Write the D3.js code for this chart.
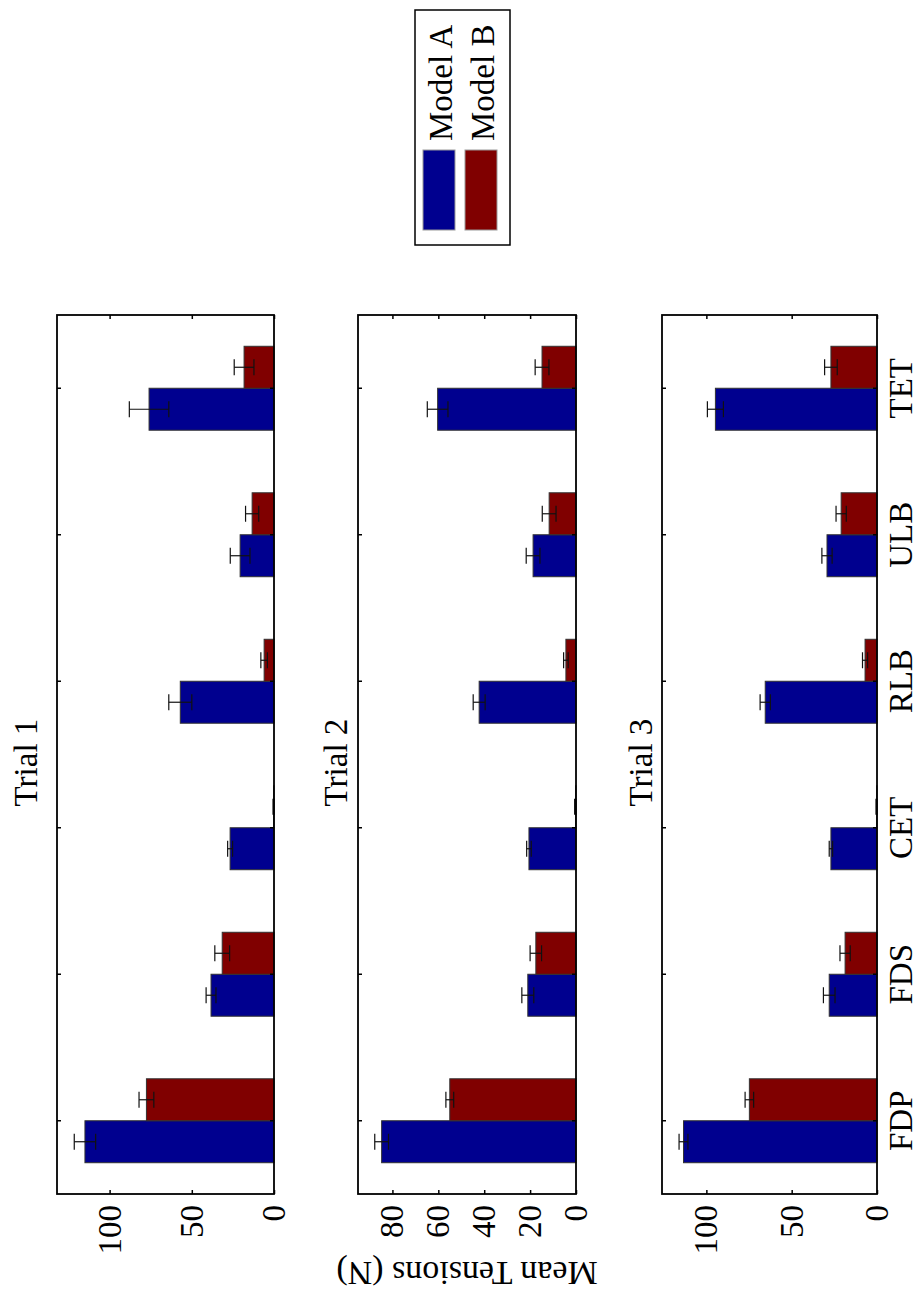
<!DOCTYPE html>
<html>
<head>
<meta charset="utf-8">
<script src="https://cdn.jsdelivr.net/npm/d3@7"></script>
<style>
  html, body { margin: 0; padding: 0; background: #fff; }
  svg { display: block; }
  text { font-family: "Liberation Serif", "Times New Roman", serif; fill: #000; }
</style>
</head>
<body>
<svg id="chart" width="919" height="1291"></svg>
<script>
// Muscle tendon categories and the two models compared
const categories = ["FDP", "FDS", "CET", "RLB", "ULB", "TET"];
const series = ["Model A", "Model B"];
const trialNames = ["Trial 1", "Trial 2", "Trial 3"];

// Mean tensions (N) per trial and model
const trial1ModelA = [115, 38.3, 26.7, 57, 20.6, 76];
const trial1ModelB = [77.6, 31.5, 0.2, 6, 13.3, 18.2];
const trial2ModelA = [84.7, 21, 20.5, 42.2, 18.7, 60.3];
const trial2ModelB = [55, 17.5, 0.2, 4.4, 11.7, 14.8];
const trial3ModelA = [113.4, 28, 27, 65.5, 29.3, 94.7];
const trial3ModelB = [74.8, 18.7, 0.2, 7, 21, 27];

// Error half-widths (N)
const trial1ErrA = [6.5, 3, 1.5, 7, 6, 12];
const trial1ErrB = [4.5, 4.5, 0.4, 2, 4, 6];
const trial2ErrA = [3, 2.6, 1, 2.6, 3, 4.5];
const trial2ErrB = [1.7, 2.5, 0.4, 1, 3, 3];
const trial3ErrA = [2.6, 3.4, 1, 3, 3, 4.7];
const trial3ErrB = [2.5, 3, 0.4, 1.5, 3, 3.7];

// Axis limits and tick values for each trial
const valueMax = [132, 95, 126];
const trial1Ticks = [0, 50, 100];
const trial2Ticks = [0, 20, 40, 60, 80];
const trial3Ticks = [0, 50, 100];

const colors = { "Model A": "#00008F", "Model B": "#800000" };

// The figure is laid out landscape (W x H) and turned a quarter turn onto the page
const W = 1291, H = 919;
const svg = d3.select("#chart");
const fig = svg.append("g").attr("transform", `translate(0,${W}) rotate(-90)`);

const plotLeft = 97, plotRight = 976;
const panelTop = [57, 358, 662];
const panelBottom = [274, 576, 877];
const titleGap = [20, 11, 10];

const panels = [
  { name: trialNames[0], a: trial1ModelA, b: trial1ModelB, ea: trial1ErrA, eb: trial1ErrB, ticks: trial1Ticks },
  { name: trialNames[1], a: trial2ModelA, b: trial2ModelB, ea: trial2ErrA, eb: trial2ErrB, ticks: trial2Ticks },
  { name: trialNames[2], a: trial3ModelA, b: trial3ModelB, ea: trial3ErrA, eb: trial3ErrB, ticks: trial3Ticks }
];

const x0 = d3.scaleBand().domain(categories).range([plotLeft, plotRight]).padding(0);
const groupW = x0.bandwidth() * 0.573;
const x1 = d3.scaleBand().domain(series).range([0, groupW]).padding(0);
const capW = 16;

panels.forEach((p, i) => {
  const top = panelTop[i], bottom = panelBottom[i];
  const y = d3.scaleLinear().domain([0, valueMax[i]]).range([bottom, top]);
  const g = fig.append("g");

  const rows = [];
  categories.forEach((c, k) => {
    rows.push({ cat: c, s: "Model A", v: p.a[k], e: p.ea[k] });
    rows.push({ cat: c, s: "Model B", v: p.b[k], e: p.eb[k] });
  });
  const bx = d => x0(d.cat) + (x0.bandwidth() - groupW) / 2 + x1(d.s);

  // bars
  g.selectAll("rect.bar").data(rows).join("rect")
    .attr("class", "bar")
    .attr("x", bx)
    .attr("width", x1.bandwidth())
    .attr("y", d => y(d.v))
    .attr("height", d => y(0) - y(d.v))
    .attr("fill", d => colors[d.s])
    .attr("stroke", "#333")
    .attr("stroke-width", 1);

  // error bars
  const eb = g.selectAll("g.err").data(rows).join("g").attr("class", "err")
    .attr("stroke", "#111").attr("stroke-width", 1.2);
  eb.append("line")
    .attr("x1", d => bx(d) + x1.bandwidth() / 2).attr("x2", d => bx(d) + x1.bandwidth() / 2)
    .attr("y1", d => y(Math.max(0, d.v - d.e))).attr("y2", d => y(d.v + d.e));
  eb.append("line")
    .attr("x1", d => bx(d) + x1.bandwidth() / 2 - capW / 2).attr("x2", d => bx(d) + x1.bandwidth() / 2 + capW / 2)
    .attr("y1", d => y(d.v + d.e)).attr("y2", d => y(d.v + d.e));
  eb.append("line")
    .attr("x1", d => bx(d) + x1.bandwidth() / 2 - capW / 2).attr("x2", d => bx(d) + x1.bandwidth() / 2 + capW / 2)
    .attr("y1", d => y(Math.max(0, d.v - d.e))).attr("y2", d => y(Math.max(0, d.v - d.e)));

  // value axis with labels (left) and inward ticks on both sides
  const left = g.append("g").attr("transform", `translate(${plotLeft},0)`)
    .call(d3.axisLeft(y).tickValues(p.ticks).tickSizeInner(-4).tickSizeOuter(0).tickPadding(11));
  const right = g.append("g").attr("transform", `translate(${plotRight},0)`)
    .call(d3.axisRight(y).tickValues(p.ticks).tickSizeInner(-4).tickSizeOuter(0).tickFormat(""));

  // category axis: inward ticks top and bottom, labels only under the last panel
  const bottomAxis = d3.axisBottom(x0).tickSizeInner(-4).tickSizeOuter(0).tickPadding(12);
  if (i !== panels.length - 1) bottomAxis.tickFormat("");
  const bot = g.append("g").attr("transform", `translate(0,${bottom})`).call(bottomAxis);
  const topAx = g.append("g").attr("transform", `translate(0,${top})`)
    .call(d3.axisTop(x0).tickSizeInner(-4).tickSizeOuter(0).tickFormat(""));

  [left, right, bot, topAx].forEach(a => {
    a.select(".domain").remove();
    a.attr("font-family", null).attr("font-size", null);
    a.selectAll("line").attr("stroke", "#000").attr("stroke-width", 1.5);
    a.selectAll("text").style("font-size", "33px").attr("fill", "#000");
  });

  // frame
  g.append("rect")
    .attr("x", plotLeft).attr("y", top)
    .attr("width", plotRight - plotLeft).attr("height", bottom - top)
    .attr("fill", "none").attr("stroke", "#000").attr("stroke-width", 1.8);

  // title
  g.append("text")
    .attr("x", (plotLeft + plotRight) / 2 - 8)
    .attr("y", top - titleGap[i])
    .attr("text-anchor", "middle")
    .style("font-size", "33px")
    .text(p.name);
});

// shared value-axis label
fig.append("text")
  .attr("transform", `translate(29,${(panelTop[1] + panelBottom[1]) / 2}) rotate(-90)`)
  .attr("text-anchor", "middle")
  .style("font-size", "34px")
  .text("Mean Tensions (N)");

// legend
const legend = fig.append("g");
legend.append("rect")
  .attr("x", 1046).attr("y", 415).attr("width", 235).attr("height", 95)
  .attr("fill", "#fff").attr("stroke", "#000").attr("stroke-width", 1.5);
const item = legend.selectAll("g.item").data(series).join("g").attr("class", "item")
  .attr("transform", (d, k) => `translate(0,${423 + k * 42})`);
item.append("rect")
  .attr("x", 1061).attr("y", 0).attr("width", 80).attr("height", 32)
  .attr("fill", d => colors[d]).attr("stroke", "#999").attr("stroke-width", 1);
item.append("text")
  .attr("x", 1150).attr("y", 29)
  .style("font-size", "33px")
  .text(d => d);
</script>
</body>
</html>
